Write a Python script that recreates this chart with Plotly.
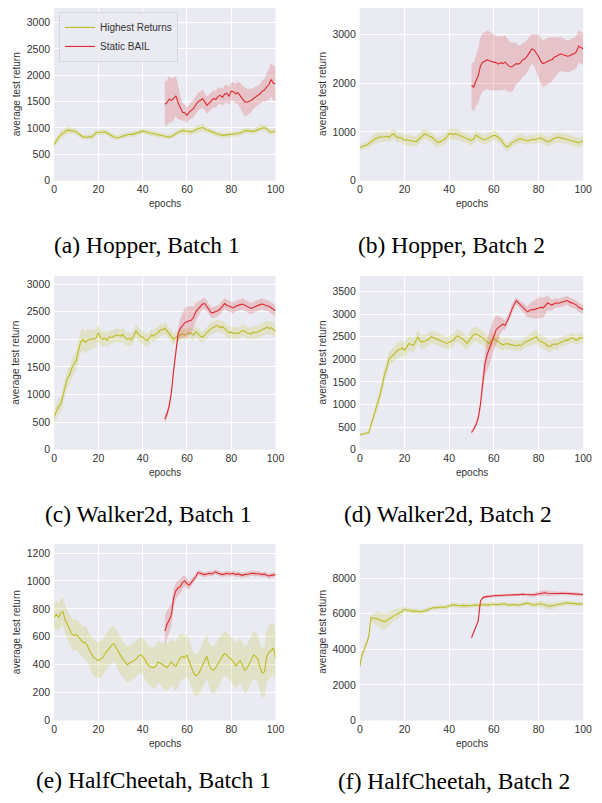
import plotly.graph_objects as go

# ---------------- data ----------------
EPOCHS = list(range(0, 101))
BAIL_EPOCHS = list(range(50, 101))

SERIES_NAMES = ["Highest Returns", "Static BAIL"]

CAPTIONS = ["(a) Hopper, Batch 1", "(b) Hopper, Batch 2",
            "(c) Walker2d, Batch 1", "(d) Walker2d, Batch 2",
            "(e) HalfCheetah, Batch 1", "(f) HalfCheetah, Batch 2"]

HOPPER1_YTICKS = [0, 500, 1000, 1500, 2000, 2500, 3000]
HOPPER2_YTICKS = [0, 1000, 2000, 3000]
WALKER1_YTICKS = [0, 500, 1000, 1500, 2000, 2500, 3000]
WALKER2_YTICKS = [0, 500, 1000, 1500, 2000, 2500, 3000, 3500]
CHEETAH1_YTICKS = [0, 200, 400, 600, 800, 1000, 1200]
CHEETAH2_YTICKS = [0, 2000, 4000, 6000, 8000]
X_TICKS = [0, 20, 40, 60, 80, 100]

# Hopper, Batch 1
HOPPER1_HR_MEAN = [690, 760, 820, 870, 900, 930, 960, 955, 950, 945,
                   930, 890, 860, 830, 830, 820, 835, 830, 870, 910,
                   920, 915, 920, 925, 900, 870, 840, 830, 820, 815,
                   830, 850, 860, 870, 880, 875, 890, 900, 910, 930,
                   940, 935, 915, 905, 900, 890, 885, 880, 870, 850,
                   840, 830, 825, 840, 870, 900, 920, 940, 950, 945,
                   935, 930, 925, 945, 970, 990, 1000, 1010, 990, 960,
                   950, 930, 910, 895, 880, 870, 860, 865, 870, 875,
                   880, 885, 880, 895, 910, 920, 950, 945, 935, 930,
                   935, 950, 970, 995, 1000, 1005, 990, 940, 920, 930, 950]
HOPPER1_HR_STD = [70, 70, 75, 75, 70, 70, 70, 70, 65, 60,
                  60, 55, 55, 50, 50, 50, 50, 50, 55, 55,
                  55, 55, 50, 50, 50, 50, 45, 45, 45, 45,
                  45, 45, 45, 45, 45, 45, 50, 50, 50, 50,
                  50, 50, 50, 50, 50, 45, 45, 45, 45, 45,
                  45, 45, 45, 45, 50, 50, 50, 55, 60, 60,
                  60, 60, 60, 60, 65, 70, 75, 75, 70, 65,
                  60, 55, 55, 50, 50, 50, 50, 50, 50, 50,
                  50, 50, 50, 50, 55, 55, 55, 55, 55, 55,
                  55, 55, 60, 60, 60, 60, 60, 60, 55, 55, 55]
HOPPER1_BAIL_MEAN = [1450, 1480, 1550, 1520, 1560, 1610, 1480, 1380, 1300, 1290,
                     1240, 1300, 1340, 1370, 1440, 1500, 1520, 1560, 1500, 1430,
                     1470, 1520, 1560, 1540, 1600, 1620, 1580, 1640, 1660, 1600,
                     1700, 1690, 1650, 1670, 1620, 1550, 1500, 1490, 1510, 1520,
                     1560, 1590, 1620, 1650, 1700, 1720, 1780, 1820, 1920, 1850, 1840]
HOPPER1_BAIL_STD = [420, 430, 440, 420, 400, 380, 320, 220, 170, 150,
                    150, 150, 160, 170, 170, 170, 170, 170, 170, 160,
                    160, 160, 160, 160, 160, 160, 160, 170, 170, 170,
                    170, 180, 190, 210, 240, 260, 270, 260, 240, 220,
                    200, 190, 180, 180, 200, 220, 260, 300, 320, 330, 330]

# Hopper, Batch 2
HOPPER2_HR_MEAN = [680, 690, 720, 720, 760, 800, 830, 860, 880, 900,
                   890, 900, 910, 890, 920, 960, 920, 880, 890, 870,
                   830, 840, 830, 820, 820, 800, 830, 880, 930, 960,
                   940, 910, 900, 860, 800, 780, 800, 830, 850, 900,
                   960, 960, 950, 960, 940, 920, 900, 870, 860, 830,
                   820, 860, 930, 900, 870, 850, 840, 860, 880, 910,
                   930, 920, 880, 850, 780, 720, 690, 720, 770, 800,
                   830, 850, 860, 850, 830, 820, 830, 850, 840, 850,
                   870, 880, 850, 820, 800, 810, 840, 870, 880, 890,
                   880, 860, 860, 840, 830, 820, 800, 790, 780, 800, 820]
HOPPER2_HR_STD = [60, 60, 65, 70, 80, 90, 95, 100, 100, 100,
                  100, 105, 100, 100, 100, 105, 100, 100, 95, 100,
                  100, 110, 110, 115, 110, 110, 100, 100, 105, 100,
                  100, 100, 95, 100, 100, 100, 100, 100, 100, 105,
                  110, 110, 110, 110, 100, 100, 100, 100, 100, 100,
                  100, 100, 100, 95, 100, 100, 100, 100, 100, 100,
                  100, 100, 90, 90, 90, 90, 90, 90, 90, 90,
                  90, 90, 90, 90, 90, 90, 90, 90, 90, 95,
                  100, 100, 100, 100, 100, 100, 100, 100, 100, 100,
                  100, 100, 100, 100, 100, 100, 100, 100, 100, 100, 100]
HOPPER2_BAIL_MEAN = [1950, 1920, 2050, 2150, 2350, 2430, 2450, 2480, 2460, 2440,
                     2430, 2420, 2390, 2420, 2400, 2430, 2380, 2340, 2330, 2360,
                     2400, 2390, 2420, 2480, 2500, 2560, 2630, 2700, 2680, 2620,
                     2550, 2450, 2400, 2420, 2450, 2470, 2480, 2530, 2550, 2580,
                     2600, 2580, 2560, 2550, 2560, 2590, 2600, 2650, 2760, 2720, 2700]
HOPPER2_BAIL_STD = [480, 500, 520, 560, 600, 600, 600, 600, 600, 590,
                    580, 560, 550, 550, 550, 550, 540, 520, 500, 480,
                    420, 380, 360, 350, 340, 330, 320, 310, 320, 380,
                    450, 470, 480, 480, 480, 470, 450, 420, 380, 360,
                    350, 340, 330, 330, 330, 330, 330, 330, 330, 330, 330]

# Walker2d, Batch 1
WALKER1_HR_MEAN = [600, 700, 780, 820, 1000, 1150, 1300, 1350, 1480, 1550,
                   1620, 1800, 1950, 2000, 1950, 1980, 2000, 2010, 2000, 2030,
                   2120, 2030, 2000, 2020, 1980, 2050, 2030, 2060, 2080, 2070,
                   2060, 2090, 2030, 2000, 2020, 1990, 2080, 2150, 2100, 2060,
                   2040, 2000, 1980, 2020, 2080, 2060, 2100, 2120, 2180, 2170,
                   2200, 2150, 2100, 2050, 2000, 2040, 2060, 2080, 2100, 2080,
                   2100, 2120, 2100, 2080, 2140, 2100, 2060, 2040, 2080, 2120,
                   2160, 2200, 2220, 2240, 2250, 2210, 2230, 2200, 2150, 2120,
                   2130, 2110, 2120, 2100, 2130, 2160, 2150, 2120, 2110, 2100,
                   2130, 2120, 2140, 2150, 2180, 2200, 2220, 2200, 2210, 2180, 2150]
WALKER1_HR_STD = [120, 130, 140, 140, 150, 150, 160, 160, 160, 170,
                  180, 190, 200, 200, 200, 200, 190, 180, 170, 160,
                  150, 140, 130, 130, 130, 120, 120, 120, 120, 120,
                  120, 120, 120, 120, 120, 120, 120, 120, 120, 120,
                  120, 120, 120, 110, 110, 110, 110, 110, 110, 110,
                  110, 100, 100, 100, 100, 100, 100, 100, 100, 100,
                  100, 100, 100, 100, 100, 100, 100, 100, 100, 100,
                  110, 110, 110, 110, 110, 110, 110, 110, 110, 110,
                  110, 110, 110, 110, 110, 110, 110, 110, 110, 110,
                  110, 120, 120, 120, 120, 120, 120, 120, 120, 120, 120]
WALKER1_BAIL_MEAN = [550, 650, 800, 1050, 1450, 1800, 2100, 2200, 2250, 2300,
                     2320, 2340, 2350, 2400, 2500, 2550, 2600, 2640, 2650, 2600,
                     2550, 2480, 2490, 2500, 2520, 2550, 2600, 2650, 2620, 2600,
                     2580, 2570, 2600, 2620, 2630, 2640, 2620, 2600, 2570, 2560,
                     2580, 2600, 2620, 2630, 2640, 2620, 2610, 2600, 2570, 2540, 2520]
WALKER1_BAIL_STD = [80, 80, 90, 90, 100, 100, 130, 180, 230, 270,
                    280, 260, 240, 200, 160, 130, 110, 100, 100, 100,
                    100, 100, 100, 100, 100, 100, 100, 100, 100, 100,
                    100, 100, 100, 100, 100, 100, 100, 100, 100, 100,
                    100, 100, 100, 100, 100, 100, 100, 100, 100, 100, 100]

# Walker2d, Batch 2
WALKER2_HR_MEAN = [330, 340, 350, 360, 380, 550, 700, 850, 1000, 1200,
                   1400, 1650, 1800, 2000, 2050, 2100, 2150, 2200, 2220, 2250,
                   2200, 2280, 2350, 2330, 2300, 2400, 2500, 2400, 2380, 2400,
                   2420, 2450, 2500, 2480, 2450, 2440, 2420, 2400, 2380, 2350,
                   2380, 2400, 2420, 2500, 2520, 2480, 2450, 2400, 2350, 2420,
                   2500, 2550, 2560, 2530, 2500, 2480, 2420, 2380, 2350, 2420,
                   2450, 2420, 2380, 2340, 2320, 2340, 2350, 2330, 2320, 2310,
                   2300, 2320, 2300, 2330, 2380, 2400, 2420, 2450, 2480, 2500,
                   2420, 2400, 2380, 2350, 2300, 2280, 2320, 2340, 2330, 2350,
                   2380, 2400, 2420, 2420, 2450, 2480, 2450, 2420, 2460, 2480, 2470]
WALKER2_HR_STD = [30, 30, 30, 30, 40, 60, 80, 100, 120, 140,
                  150, 160, 160, 160, 160, 160, 170, 170, 170, 170,
                  170, 170, 160, 160, 160, 160, 150, 150, 150, 150,
                  140, 140, 140, 140, 140, 140, 140, 140, 140, 140,
                  140, 140, 140, 140, 140, 150, 150, 150, 150, 150,
                  160, 160, 160, 160, 160, 150, 150, 150, 150, 140,
                  130, 130, 130, 130, 120, 120, 120, 120, 120, 120,
                  120, 120, 120, 120, 120, 120, 130, 140, 150, 160,
                  150, 140, 140, 140, 130, 130, 120, 120, 120, 120,
                  110, 110, 110, 110, 110, 110, 110, 110, 110, 110, 110]
WALKER2_BAIL_MEAN = [380, 450, 550, 700, 1000, 1500, 1900, 2100, 2250, 2400,
                     2550, 2650, 2700, 2750, 2780, 2750, 2850, 2950, 3100, 3200,
                     3300, 3250, 3200, 3150, 3100, 3050, 3080, 3100, 3100, 3120,
                     3130, 3150, 3140, 3180, 3250, 3220, 3200, 3230, 3250, 3240,
                     3260, 3270, 3290, 3300, 3260, 3250, 3220, 3200, 3150, 3120, 3100]
WALKER2_BAIL_STD = [30, 40, 50, 80, 120, 200, 280, 340, 380, 380,
                    350, 320, 260, 180, 130, 100, 90, 100, 110, 100,
                    80, 80, 90, 100, 110, 120, 150, 180, 200, 220,
                    230, 230, 220, 200, 170, 140, 120, 110, 100, 100,
                    100, 100, 100, 100, 100, 100, 100, 100, 100, 100, 100]

# HalfCheetah, Batch 1
CHEETAH1_HR_MEAN = [740, 760, 740, 770, 780, 720, 690, 650, 620, 610,
                    615, 600, 580, 560, 560, 540, 500, 470, 450, 440,
                    430, 440, 450, 480, 500, 520, 540, 550, 520, 490,
                    460, 440, 420, 400, 410, 420, 430, 440, 460, 470,
                    460, 440, 410, 390, 380, 380, 390, 420, 410, 400,
                    390, 380, 400, 420, 400, 390, 420, 450, 460, 450,
                    470, 430, 390, 340, 320, 330, 360, 400, 430, 460,
                    400, 370, 360, 380, 410, 430, 460, 480, 470, 450,
                    440, 420, 390, 410, 430, 400, 360, 370, 400, 440,
                    470, 460, 440, 380, 340, 350, 460, 490, 500, 520, 450]
CHEETAH1_HR_STD = [100, 100, 100, 100, 100, 100, 100, 110, 110, 110,
                   110, 110, 110, 110, 120, 120, 120, 130, 130, 130,
                   130, 130, 130, 130, 130, 130, 130, 130, 130, 130,
                   130, 130, 130, 130, 130, 130, 130, 130, 130, 130,
                   130, 140, 140, 140, 140, 150, 150, 150, 150, 160,
                   170, 170, 170, 170, 170, 180, 180, 170, 160, 150,
                   150, 150, 150, 150, 150, 150, 150, 150, 160, 160,
                   160, 170, 170, 170, 170, 170, 160, 160, 160, 160,
                   160, 160, 160, 160, 160, 160, 170, 170, 170, 170,
                   170, 170, 170, 170, 180, 180, 190, 190, 190, 180, 170]
CHEETAH1_BAIL_MEAN = [640, 690, 720, 760, 880, 930, 950, 960, 990, 1000,
                      980, 970, 990, 1010, 1030, 1060, 1055, 1050, 1045, 1050,
                      1055, 1050, 1055, 1065, 1055, 1050, 1045, 1050, 1055, 1050,
                      1050, 1055, 1045, 1050, 1045, 1040, 1045, 1045, 1050, 1055,
                      1055, 1050, 1055, 1050, 1045, 1050, 1040, 1035, 1040, 1045, 1045]
CHEETAH1_BAIL_STD = [110, 100, 90, 80, 70, 60, 55, 50, 45, 40,
                     35, 30, 30, 25, 22, 20, 18, 18, 18, 18,
                     18, 18, 18, 18, 18, 18, 18, 18, 18, 18,
                     18, 18, 18, 18, 18, 18, 18, 18, 18, 18,
                     18, 18, 18, 18, 18, 18, 18, 18, 18, 18, 18]

# HalfCheetah, Batch 2
CHEETAH2_HR_MEAN = [3050, 3700, 4000, 4300, 4700, 5800, 5780, 5750, 5700, 5650,
                    5600, 5550, 5620, 5700, 5800, 5900, 5950, 6000, 6050, 6150,
                    6250, 6200, 6200, 6150, 6150, 6120, 6150, 6100, 6120, 6150,
                    6200, 6250, 6300, 6350, 6330, 6350, 6400, 6380, 6350, 6400,
                    6450, 6480, 6500, 6480, 6450, 6450, 6470, 6450, 6440, 6450,
                    6460, 6480, 6500, 6450, 6500, 6520, 6500, 6480, 6500, 6520,
                    6550, 6500, 6520, 6550, 6530, 6560, 6500, 6480, 6520, 6530,
                    6500, 6480, 6500, 6550, 6580, 6600, 6560, 6500, 6480, 6520,
                    6540, 6560, 6520, 6500, 6450, 6420, 6450, 6480, 6500, 6520,
                    6550, 6580, 6600, 6620, 6600, 6580, 6560, 6550, 6540, 6560, 6550]
CHEETAH2_HR_STD = [100, 150, 200, 200, 200, 200, 250, 350, 400, 450,
                   450, 450, 420, 400, 380, 350, 320, 300, 250, 200,
                   150, 150, 150, 150, 150, 150, 120, 120, 120, 120,
                   120, 120, 120, 120, 120, 120, 120, 120, 120, 120,
                   120, 120, 120, 120, 120, 120, 120, 120, 120, 120,
                   120, 120, 120, 120, 120, 120, 120, 120, 120, 120,
                   120, 120, 120, 120, 120, 120, 120, 120, 120, 120,
                   120, 120, 120, 120, 120, 120, 130, 140, 150, 160,
                   170, 180, 190, 200, 200, 200, 190, 180, 170, 160,
                   150, 140, 130, 120, 120, 120, 120, 120, 120, 120, 120]
CHEETAH2_BAIL_MEAN = [4650, 5000, 5300, 5600, 6700, 6900, 6950, 6980, 7000, 7000,
                      7010, 7020, 7030, 7050, 7040, 7050, 7060, 7050, 7060, 7070,
                      7060, 7080, 7090, 7100, 7080, 7070, 7060, 7050, 7060, 7100,
                      7130, 7150, 7160, 7180, 7150, 7140, 7130, 7120, 7130, 7140,
                      7150, 7160, 7150, 7140, 7130, 7120, 7130, 7110, 7100, 7090, 7080]
CHEETAH2_BAIL_STD = [60, 60, 60, 60, 80, 80, 80, 70, 70, 70,
                     70, 70, 70, 70, 70, 70, 70, 70, 70, 70,
                     80, 80, 80, 80, 80, 80, 90, 100, 110, 120,
                     130, 140, 150, 150, 150, 140, 130, 120, 110, 100,
                     100, 100, 100, 100, 100, 100, 100, 90, 90, 90, 90]

# ---------------- layout / style ----------------
OFF = 8                      # page offset of the plot div (body margin)
W, H = 602 - OFF, 803 - OFF
HR_COLOR = "#bcbd22"
HR_FILL = "rgba(188,189,34,0.2)"
BAIL_COLOR = "#dc2a30"
BAIL_FILL = "rgba(214,39,40,0.2)"
SANS = "Liberation Sans, Arial, sans-serif"
SERIF = "Liberation Serif, Times New Roman, serif"
TICK_COLOR = "#333333"


def fx(p):
    return min(max((p - OFF) / W, 0.0), 1.0)


def fy(p):
    return min(max(1 - (p - OFF) / H, 0.0), 1.0)


# left, right, top, bottom (page px), y-range top, caption centre (page px), y-title x (page px)
PANEL_LAYOUT = [
    dict(box=(52, 278, 8, 182), ytop=3277, cap=(147, 247), ytitle_x=13),
    dict(box=(364, 592, 8, 182), ytop=3540, cap=(458, 247), ytitle_x=326),
    dict(box=(52, 278, 278, 453), ytop=3150, cap=(148, 518), ytitle_x=13),
    dict(box=(364, 592, 278, 453), ytop=3845, cap=(454, 518), ytitle_x=326),
    dict(box=(52, 278, 548, 726), ytop=1265, cap=(153, 786), ytitle_x=13),
    dict(box=(364, 592, 548, 726), ytop=9924, cap=(460, 787), ytitle_x=326),
]

PANEL_DATA = [
    (HOPPER1_HR_MEAN, HOPPER1_HR_STD, HOPPER1_BAIL_MEAN, HOPPER1_BAIL_STD, HOPPER1_YTICKS),
    (HOPPER2_HR_MEAN, HOPPER2_HR_STD, HOPPER2_BAIL_MEAN, HOPPER2_BAIL_STD, HOPPER2_YTICKS),
    (WALKER1_HR_MEAN, WALKER1_HR_STD, WALKER1_BAIL_MEAN, WALKER1_BAIL_STD, WALKER1_YTICKS),
    (WALKER2_HR_MEAN, WALKER2_HR_STD, WALKER2_BAIL_MEAN, WALKER2_BAIL_STD, WALKER2_YTICKS),
    (CHEETAH1_HR_MEAN, CHEETAH1_HR_STD, CHEETAH1_BAIL_MEAN, CHEETAH1_BAIL_STD, CHEETAH1_YTICKS),
    (CHEETAH2_HR_MEAN, CHEETAH2_HR_STD, CHEETAH2_BAIL_MEAN, CHEETAH2_BAIL_STD, CHEETAH2_YTICKS),
]

fig = go.Figure()
annotations = []


def add_series(x, mean, std, color, fill, name, xa, ya, show):
    upper = [m + s for m, s in zip(mean, std)]
    lower = [m - s for m, s in zip(mean, std)]
    fig.add_trace(go.Scatter(
        x=list(x) + list(x)[::-1], y=upper + lower[::-1],
        fill="toself", fillcolor=fill, line=dict(width=0),
        mode="lines", hoverinfo="skip", showlegend=False,
        xaxis=xa, yaxis=ya))
    fig.add_trace(go.Scatter(
        x=list(x), y=mean, mode="lines", name=name,
        line=dict(color=color, width=1.1),
        showlegend=show, xaxis=xa, yaxis=ya))


for i, (pl, pd_) in enumerate(zip(PANEL_LAYOUT, PANEL_DATA), start=1):
    hr_m, hr_s, bl_m, bl_s, yticks = pd_
    xa = "x" if i == 1 else f"x{i}"
    ya = "y" if i == 1 else f"y{i}"
    add_series(EPOCHS, hr_m, hr_s, HR_COLOR, HR_FILL, SERIES_NAMES[0], xa, ya, i == 1)
    add_series(BAIL_EPOCHS, bl_m, bl_s, BAIL_COLOR, BAIL_FILL, SERIES_NAMES[1], xa, ya, i == 1)

    l, r, t, b = pl["box"]
    xkey = "xaxis" if i == 1 else f"xaxis{i}"
    ykey = "yaxis" if i == 1 else f"yaxis{i}"
    common = dict(showgrid=True, gridcolor="white", gridwidth=1, zeroline=False,
                  showline=False, ticks="", tickfont=dict(family=SANS, size=10.5, color=TICK_COLOR),
                  fixedrange=True)
    fig.update_layout({
        xkey: dict(domain=[fx(l), fx(r)], range=[0, 100], tickvals=X_TICKS,
                   ticktext=[str(v) for v in X_TICKS], anchor=ya, ticklabelstandoff=1, **common),
        ykey: dict(domain=[fy(b), fy(t)], range=[0, pl["ytop"]], tickvals=yticks,
                   ticktext=[str(v) for v in yticks], anchor=xa, ticklabelstandoff=3, **common),
    })
    # axis titles
    annotations.append(dict(text="epochs", x=fx((l + r) / 2), y=fy(b + 23), xref="paper", yref="paper",
                            showarrow=False, xanchor="center", yanchor="middle",
                            font=dict(family=SANS, size=10, color=TICK_COLOR)))
    annotations.append(dict(text="average test return", x=fx(pl["ytitle_x"]), y=fy((t + b) / 2),
                            xref="paper", yref="paper", showarrow=False, textangle=-90,
                            xanchor="center", yanchor="middle",
                            font=dict(family=SANS, size=10, color=TICK_COLOR)))
    # caption
    cx, cy = pl["cap"]
    annotations.append(dict(text=CAPTIONS[i - 1], x=fx(cx), y=fy(cy), xref="paper", yref="paper",
                            showarrow=False, xanchor="center", yanchor="middle",
                            font=dict(family=SERIF, size=23.5, color="black")))

fig.update_layout(
    width=W, height=H, margin=dict(l=0, r=0, t=0, b=0),
    paper_bgcolor="white", plot_bgcolor="#EAEAF2",
    annotations=annotations,
    legend=dict(x=fx(57), y=fy(12), xanchor="left", yanchor="top",
                bgcolor="rgba(234,234,242,0.85)", bordercolor="#d5d5dc", borderwidth=1,
                font=dict(family=SANS, size=10, color=TICK_COLOR),
                tracegroupgap=0, itemwidth=30),
    showlegend=True,
)

fig.write_html("out.html")
